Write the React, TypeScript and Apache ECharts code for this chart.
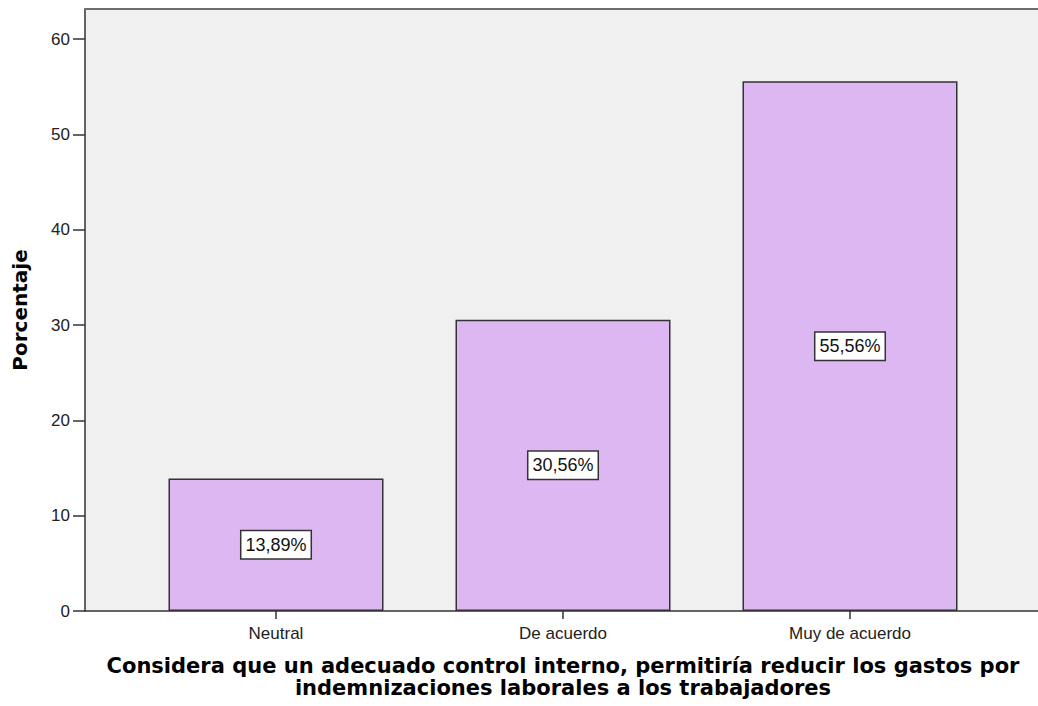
import React, { useEffect, useRef } from "react";
import * as echarts from "echarts";

const categories = ["Neutral", "De acuerdo", "Muy de acuerdo"];
const percentages = [13.89, 30.56, 55.56];
const yTicks = [0, 10, 20, 30, 40, 50, 60];
const xTitle =
  "Considera que un adecuado control interno, permitiría reducir los gastos por\nindemnizaciones laborales a los trabajadores";
const yTitle = "Porcentaje";

export default function App() {
  const ref = useRef<HTMLDivElement>(null);
  useEffect(() => {
    document.body.style.margin = "0";
    const chart = echarts.init(ref.current!, undefined, { renderer: "svg" });
    const tickFont = "'Liberation Sans', Arial, sans-serif";
    const titleFont = "'DejaVu Sans', Verdana, sans-serif";
    const xMin = -0.6655;
    const xMax = 2.6655;
    chart.setOption({
      animation: false,
      backgroundColor: "#ffffff",
      grid: {
        left: 85,
        top: 9,
        width: 956,
        height: 602,
        show: true,
        backgroundColor: "#f0f0f0",
        borderWidth: 0,
      },
      xAxis: [
        {
          type: "value",
          min: xMin,
          max: xMax,
          splitLine: { show: false },
          axisLine: { show: true, onZero: false, lineStyle: { color: "#333333", width: 1.5 } },
          axisTick: {
            show: true,
            customValues: categories.map((_, i) => i),
            length: 8,
            lineStyle: { color: "#333333", width: 1.5 },
          },
          axisLabel: {
            customValues: categories.map((_, i) => i),
            formatter: (v: number) => categories[Math.round(v)] ?? "",
            margin: 14,
            fontSize: 17,
            fontFamily: tickFont,
            color: "#222222",
          },
          name: xTitle,
          nameLocation: "middle",
          nameGap: 44,
          nameTextStyle: {
            fontSize: 21,
            fontWeight: "bold",
            fontFamily: titleFont,
            color: "#000000",
            lineHeight: 22,
            align: "center",
          },
        },
        {
          type: "value",
          position: "top",
          min: xMin,
          max: xMax,
          splitLine: { show: false },
          axisLine: { show: true, onZero: false, lineStyle: { color: "#6e6e6e", width: 2 } },
          axisTick: { show: false },
          axisLabel: { show: false },
        },
      ],
      yAxis: {
        type: "value",
        min: 0,
        max: 63.15,
        splitLine: { show: false },
        axisLine: { show: true, onZero: false, lineStyle: { color: "#333333", width: 1.5 } },
        axisTick: {
          show: true,
          customValues: yTicks,
          length: 12,
          lineStyle: { color: "#333333", width: 1.5 },
        },
        axisLabel: {
          customValues: yTicks,
          margin: 15,
          fontSize: 17,
          fontFamily: tickFont,
          color: "#222222",
        },
        name: yTitle,
        nameLocation: "middle",
        nameGap: 55,
        nameRotate: 90,
        nameTextStyle: {
          fontSize: 20,
          fontWeight: "bold",
          fontFamily: titleFont,
          color: "#000000",
        },
      },
      series: [
        {
          type: "bar",
          xAxisIndex: 0,
          barWidth: 215,
          data: percentages.map((v, i) => [i, v]),
          itemStyle: {
            color: "#ddb7f1",
            borderColor: "#333333",
            borderWidth: 1.5,
          },
          label: {
            show: true,
            position: "inside",
            formatter: (p: any) => `${p.value[1].toFixed(2).replace(".", ",")}%`,
            fontSize: 18,
            fontFamily: tickFont,
            color: "#111111",
            backgroundColor: "#ffffff",
            borderColor: "#333333",
            borderWidth: 1.5,
            padding: [5, 4, 4, 4],
          },
        },
      ],
    });
    return () => chart.dispose();
  }, []);
  return (
    <div style={{ width: 1038, height: 706, overflow: "hidden" }}>
      <div ref={ref} style={{ width: 1060, height: 706 }} />
    </div>
  );
}
